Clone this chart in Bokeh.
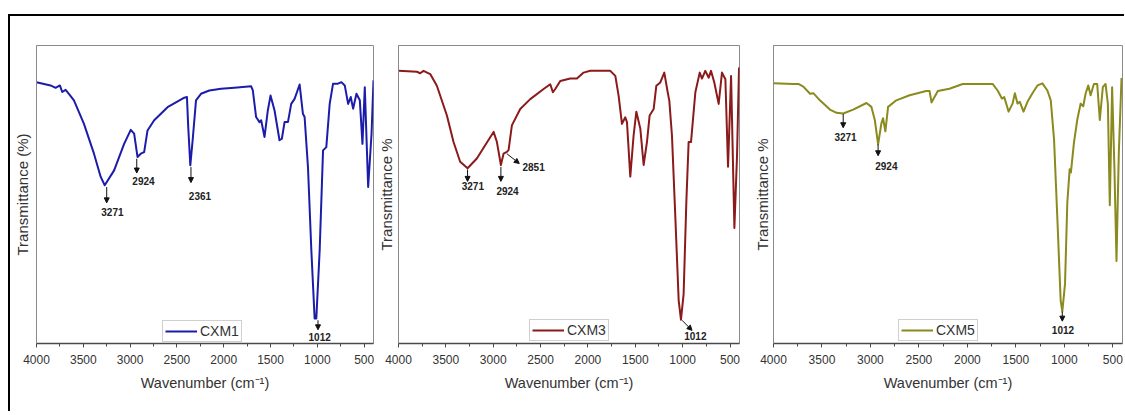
from bokeh.plotting import figure
from bokeh.models import (Range1d, SingleIntervalTicker, FixedTicker, Legend,
                          LegendItem, Label, Arrow, NormalHead, Spacer)
from bokeh.layouts import row, column
from bokeh.embed import file_html
from bokeh.resources import INLINE

# ---------------- data ----------------
cxm1_wn = [4000, 3850, 3796, 3750, 3725, 3689, 3654, 3600, 3493, 3386, 3314, 3271,
           3171, 3064, 2993, 2957, 2921, 2886, 2850, 2814, 2743, 2600, 2421, 2393,
           2379, 2357, 2332, 2296, 2243, 2154, 2029, 1886, 1707, 1689, 1654, 1618,
           1600, 1564, 1529, 1500, 1457, 1404, 1379, 1350, 1314, 1279, 1243, 1189,
           1154, 1136, 1100, 1064, 1029, 1011, 975, 939, 904, 868, 832, 779, 743,
           707, 671, 643, 618, 582, 546, 518, 493, 457, 421, 400]
cxm1_t = [87.7, 86.6, 85.8, 86.6, 84.4, 85.1, 83.8, 81.6, 73.7, 63.7, 55.9, 53.1,
          58.1, 67.0, 71.7, 70.4, 62.6, 63.7, 64.2, 71.5, 74.9, 79.3, 82.5, 82.7,
          72.6, 59.8, 68.2, 81.6, 83.8, 84.9, 85.5, 85.8, 86.3, 84.9, 76.0, 74.3,
          74.9, 69.3, 78.2, 83.2, 78.2, 68.2, 68.7, 74.3, 74.3, 80.4, 82.1, 86.9,
          77.1, 76.0, 59.2, 31.3, 8.4, 8.4, 31.3, 64.8, 65.9, 80.4, 87.2, 87.2, 87.7,
          86.6, 80.4, 82.7, 78.8, 83.8, 81.6, 67.0, 86.0, 52.5, 70.4, 88.3]

cxm3_wn = [4000, 3806, 3771, 3736, 3665, 3595, 3489, 3419, 3349, 3271, 3173, 3085,
           2996, 2961, 2919, 2891, 2856, 2838, 2803, 2715, 2609, 2468, 2398, 2370,
           2345, 2292, 2187, 2116, 2046, 1975, 1764, 1711, 1676, 1641, 1606, 1588,
           1553, 1518, 1489, 1447, 1412, 1377, 1349, 1306, 1278, 1236, 1194, 1158,
           1141, 1113, 1077, 1042, 1018, 990, 961, 937, 912, 866, 820, 796, 761,
           725, 701, 666, 620, 585, 549, 521, 489, 454, 426, 405]
cxm3_t = [91.5, 91.2, 90.7, 91.5, 90.4, 86.5, 76.5, 67.6, 61.0, 58.8, 62.1, 66.5,
          71.0, 67.6, 59.9, 63.7, 64.3, 64.9, 73.2, 78.7, 82.0, 85.4, 87.0, 84.3,
          85.4, 88.1, 88.9, 88.9, 90.9, 91.5, 91.5, 89.8, 83.1, 73.7, 75.9, 74.3,
          56.0, 69.8, 77.8, 72.1, 59.9, 67.6, 76.5, 78.7, 86.5, 87.6, 90.9, 84.3,
          81.5, 69.8, 42.1, 14.4, 8.0, 16.6, 47.7, 67.6, 67.6, 84.3, 90.9, 88.9, 91.5,
          89.2, 91.5, 87.6, 80.4, 90.9, 88.7, 59.3, 89.8, 38.8, 63.2, 92.6]

cxm5_wn = [4000, 3795, 3743, 3692, 3623, 3589, 3521, 3418, 3349, 3281, 3178, 3041,
           2990, 2955, 2921, 2887, 2870, 2846, 2818, 2733, 2596, 2425, 2390, 2370,
           2339, 2305, 2185, 2048, 1842, 1740, 1688, 1644, 1620, 1575, 1534, 1510,
           1483, 1459, 1421, 1380, 1329, 1277, 1226, 1175, 1140, 1106, 1072, 1038,
           1021, 993, 969, 945, 932, 901, 867, 832, 805, 781, 753, 729, 695, 661,
           634, 603, 575, 551, 531, 507, 483, 462, 438, 410]
cxm5_t = [87.3, 87.1, 87.1, 86.2, 83.8, 84.0, 81.6, 78.5, 77.4, 77.2, 78.5, 80.7,
          79.4, 75.0, 66.8, 73.9, 75.6, 71.2, 79.4, 81.6, 83.3, 84.7, 84.7, 80.9,
          82.7, 84.7, 85.5, 87.1, 87.1, 87.1, 84.9, 82.2, 82.7, 77.8, 80.5, 84.0,
          80.5, 81.1, 77.8, 81.1, 84.0, 86.6, 87.3, 84.9, 81.6, 68.4, 42.0, 14.5,
          10.7, 20.0, 47.5, 58.5, 57.4, 67.3, 75.0, 80.5, 79.6, 83.8, 86.6, 83.3,
          87.1, 87.1, 75.0, 86.0, 87.1, 80.5, 46.4, 86.0, 58.5, 27.7, 64.0, 89.1]

series_names = ["CXM1", "CXM3", "CXM5"]
series_colors = ["#1c1cab", "#8b1a1a", "#8a8a1e"]
y_titles = ["Transmittance (%)", "Transmittance %", "Transmittance %"]
x_title = "Wavenumber (cm\u207b\u00b9)"

# peak annotations: label text, arrow start (wn, T), arrow end (wn, T), label centre (wn, T)
cxm1_peak_text = ["3271", "2924", "2361", "1012"]
cxm1_peak_arrow = [(3250, 52.5, 3250, 47.2), (2929, 62.0, 2929, 57.2),
                   (2350, 59.2, 2350, 54.0), (993, 7.8, 993, 4.6)]
cxm1_peak_label = [(3189, 44.1), (2857, 54.4), (2254, 49.4), (975, 2.3)]

cxm3_peak_text = ["3271", "2924", "2851", "1012"]
cxm3_peak_arrow = [(3271, 58.4, 3271, 54.4), (2919, 59.3, 2919, 54.4),
                   (2856, 63.7, 2725, 60.4), (1007, 7.8, 901, 4.4)]
cxm3_peak_label = [(3215, 52.9), (2849, 51.3), (2574, 59.1), (866, 2.4)]

cxm5_peak_text = ["3271", "2924", "1012"]
cxm5_peak_arrow = [(3281, 77.0, 3281, 72.4), (2921, 66.8, 2921, 63.0),
                   (1021, 10.7, 1021, 7.5)]
cxm5_peak_label = [(3257, 69.3), (2836, 59.6), (1014, 4.6)]

# ---------------- layout settings ----------------
FONT = "Liberation Sans"
FIG_H = 395
panels = [
    dict(wn=cxm1_wn, t=cxm1_t, txt=cxm1_peak_text, arr=cxm1_peak_arrow, lab=cxm1_peak_label,
         width=364, mbl=26, mbr=1, mbt=29, mbb=68, leg=(126, 1), ystand=6),
    dict(wn=cxm3_wn, t=cxm3_t, txt=cxm3_peak_text, arr=cxm3_peak_arrow, lab=cxm3_peak_label,
         width=376, mbl=24, mbr=11, mbt=27, mbb=68, leg=(131, 2), ystand=4),
    dict(wn=cxm5_wn, t=cxm5_t, txt=cxm5_peak_text, arr=cxm5_peak_arrow, lab=cxm5_peak_label,
         width=374, mbl=23, mbr=2, mbt=25, mbb=67, leg=(125, 2), ystand=3),
]

figs = []
for i, pd_ in enumerate(panels):
    p = figure(width=pd_["width"], height=FIG_H, output_backend="svg",
               toolbar_location=None, tools="",
               x_range=Range1d(4000, 400), y_range=Range1d(0, 100),
               min_border_left=pd_["mbl"], min_border_right=pd_["mbr"],
               min_border_top=pd_["mbt"], min_border_bottom=pd_["mbb"])
    p.xgrid.visible = False
    p.ygrid.visible = False
    p.outline_line_color = "#8a8a8a"
    p.outline_line_width = 1
    p.background_fill_color = "white"
    p.border_fill_color = "white"

    # x axis
    xa = p.xaxis[0]
    xa.ticker = SingleIntervalTicker(interval=500, num_minor_ticks=2)
    xa.axis_line_color = "#4a4a4a"
    xa.axis_line_width = 1.5
    xa.major_tick_line_color = "#4a4a4a"
    xa.minor_tick_line_color = "#4a4a4a"
    xa.major_tick_in = 0
    xa.major_tick_out = 4
    xa.minor_tick_in = 0
    xa.minor_tick_out = 3
    xa.major_label_text_font = FONT
    xa.major_label_text_font_size = "12px"
    xa.major_label_text_color = "#333333"
    xa.major_label_standoff = 7
    xa.axis_label = x_title
    xa.axis_label_text_font = FONT
    xa.axis_label_text_font_style = "normal"
    xa.axis_label_text_font_size = "14.5px"
    xa.axis_label_text_color = "#333333"
    xa.axis_label_standoff = 8

    # y axis (no ticks)
    ya = p.yaxis[0]
    ya.ticker = FixedTicker(ticks=[])
    ya.axis_line_color = "#8a8a8a"
    ya.major_tick_line_color = None
    ya.minor_tick_line_color = None
    ya.axis_label = y_titles[i]
    ya.axis_label_text_font = FONT
    ya.axis_label_text_font_style = "normal"
    ya.axis_label_text_font_size = "15px"
    ya.axis_label_text_color = "#333333"
    ya.axis_label_standoff = pd_["ystand"]

    r = p.line(pd_["wn"], pd_["t"], line_color=series_colors[i], line_width=2,
               line_join="round")

    for txt, (x0, y0, x1, y1), (lx, ly) in zip(pd_["txt"], pd_["arr"], pd_["lab"]):
        p.add_layout(Arrow(x_start=x0, y_start=y0, x_end=x1, y_end=y1,
                           line_color="#111111", line_width=1,
                           end=NormalHead(size=5, fill_color="#111111",
                                          line_color="#111111", line_width=1)))
        p.add_layout(Label(x=lx, y=ly, text=txt, text_align="center",
                           text_baseline="middle", text_font=FONT,
                           text_font_style="bold", text_font_size="10px",
                           text_color="#222222"))

    legend = Legend(items=[LegendItem(label=series_names[i], renderers=[r])],
                    location=pd_["leg"], orientation="vertical",
                    border_line_color="#a0a0a0", border_line_width=1,
                    background_fill_color="white", background_fill_alpha=1,
                    padding=2, margin=0, spacing=0,
                    glyph_width=32, glyph_height=16, label_standoff=3,
                    label_text_font=FONT, label_text_font_size="14px",
                    label_text_color="#333333", label_height=16)
    p.add_layout(legend)
    figs.append(p)

# outer frame lines of the figure panel (top and left edges)
panel_w = 2 + sum(pd_["width"] for pd_ in panels)
top_gap = Spacer(width=8 + panel_w, height=14)
top_line = row(Spacer(width=8, height=2),
               Spacer(width=panel_w, height=2, styles={"background-color": "#000000"}),
               spacing=0)
left_pad = Spacer(width=8, height=FIG_H)
left_line = Spacer(width=2, height=FIG_H, styles={"background-color": "#000000"})

layout = column(top_gap, top_line, row(left_pad, left_line, *figs, spacing=0), spacing=0)

open("out.html", "w").write(file_html(layout, INLINE))
